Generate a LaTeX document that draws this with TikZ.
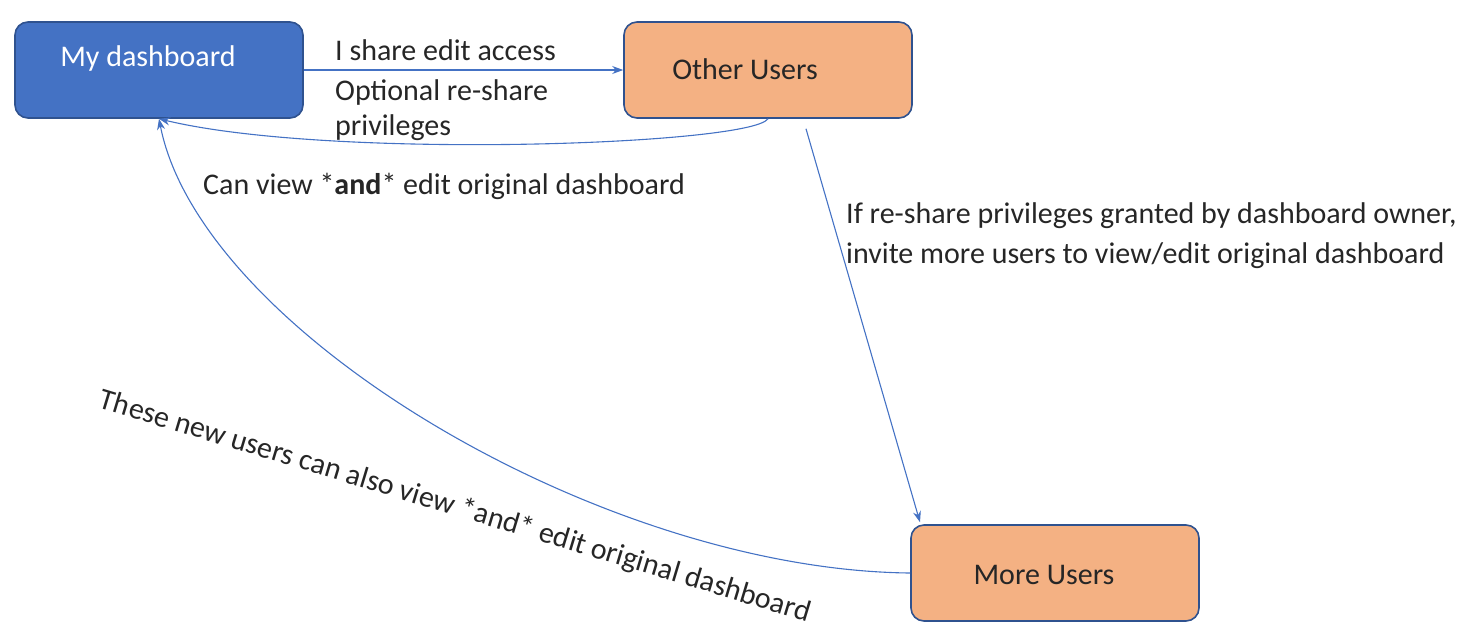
\documentclass[tikz,border=0pt]{standalone}
\usepackage{fontspec}
\setmainfont{Carlito}
\usetikzlibrary{arrows.meta}
\definecolor{lineblue}{HTML}{4472C4}
\definecolor{boxblue}{HTML}{4472C4}
\definecolor{edgeblue}{HTML}{2F528F}
\definecolor{boxorange}{HTML}{F4B183}
\tikzset{
  box/.style={draw=edgeblue, line width=1.6pt, rounded corners=13pt, minimum width=288pt, minimum height=96pt, inner sep=0pt},
  bluebox/.style={box, fill=boxblue},
  orangebox/.style={box, fill=boxorange},
  txt/.style={font=\fontsize{30}{36}\selectfont, inner sep=0pt, text=black!85},
  conn/.style={draw=lineblue, line width=1.1pt, -{Stealth[length=11pt,width=8pt]}},
}
\begin{document}
\begin{tikzpicture}[x=1pt,y=-1pt]
\useasboundingbox (0,0) rectangle (1470,641);
% boxes
\node[bluebox] (md) at (159,70) {};
\node[orangebox] (ou) at (768,70) {};
\node[orangebox] (mu) at (1055,573) {};
% box texts
\node[txt, text=white, anchor=base] (mdt) at (148,66) {My dashboard};
\node[txt, anchor=base] (out) at (745,79) {Other Users};
\node[txt, anchor=base] (mut) at (1044,584) {More Users};
% connectors
\draw[conn] (md.east) -- (ou.west);
\draw[conn] (ou.south) .. controls (750,145) and (330,160) .. (md.south);
\draw[conn] (mu.west) .. controls (600,570) and (200,330) .. (md.south);
\draw[conn] ([xshift=38pt,yshift=-10pt]ou.south) -- ([xshift=-135pt,yshift=2pt]mu.north);
% labels
\node[txt, anchor=base west] (l1) at (335,60) {I share edit access};
\node[txt, anchor=base west] (l2) at (335,100) {Optional re-share};
\node[txt, anchor=base west] (l3) at (335,135) {privileges};
\node[txt, anchor=base west] (l4) at (203,194) {Can view *\textbf{and}* edit original dashboard};
\node[txt, anchor=base west] (l5) at (846,223) {If re-share privileges granted by dashboard owner,};
\node[txt, anchor=base west] (l6) at (846,263) {invite more users to view/edit original dashboard};
\node[txt, rotate=-16.8] (l7) at (455,507) {These new users can also view *and* edit original dashboard};
\end{tikzpicture}
\end{document}
